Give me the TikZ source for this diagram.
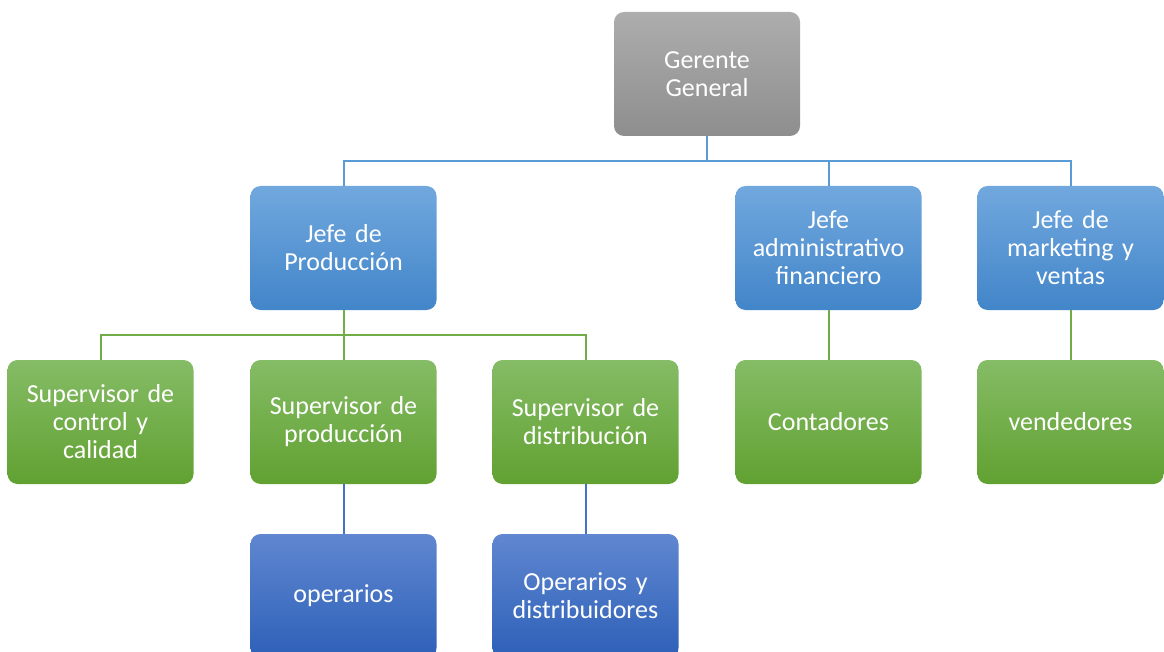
\documentclass[tikz,border=0pt]{standalone}
\usepackage{fontspec}
\setmainfont{Carlito}
\usetikzlibrary{positioning, calc}
\definecolor{grisA}{HTML}{ADADAD}
\definecolor{grisB}{HTML}{8E8E8E}
\definecolor{azulA}{HTML}{71A8DE}
\definecolor{azulB}{HTML}{4285C9}
\definecolor{verdeA}{HTML}{85BC66}
\definecolor{verdeB}{HTML}{61A131}
\definecolor{oscuroA}{HTML}{6087D0}
\definecolor{oscuroB}{HTML}{2D60B8}
\definecolor{lineaAzul}{HTML}{5B9BD5}
\definecolor{lineaVerde}{HTML}{70AD47}
\definecolor{lineaOscura}{HTML}{4472C4}

\begin{document}
\begin{tikzpicture}[x=1pt, y=-1pt,
  caja/.style={rounded corners=10pt, minimum width=186pt, minimum height=124pt,
    text width=180pt, align=center, text=white, font=\fontsize{26}{28}\selectfont, inner sep=0pt},
  gerente/.style={caja, top color=grisA, bottom color=grisB},
  jefe/.style={caja, top color=azulA, bottom color=azulB},
  super/.style={caja, top color=verdeA, bottom color=verdeB},
  base/.style={caja, top color=oscuroA, bottom color=oscuroB},
  enlace/.style={line width=2pt}]
  \useasboundingbox (0,0) rectangle (1164,652);

  % cargos
  \node[gerente] (g) at (707,74) {Gerente\\General};

  \node[jefe] (j1) at (343.5,248) {Jefe de\\Producción};
  \node[jefe] (j2) at (828.5,248) {Jefe\\administrativo\\financiero};
  \node[jefe] (j3) at (1070.5,248) {Jefe de\\marketing y\\ventas};

  \node[super] (s1) at (100.5,422) {Supervisor de\\control y\\calidad};
  \node[super] (s2) at (343.5,422) {Supervisor de\\producción};
  \node[super] (s3) at (585.5,422) {Supervisor de\\distribución};
  \node[super] (c)  at (828.5,422) {Contadores};
  \node[super] (v)  at (1070.5,422) {vendedores};

  \node[base] (o1) at (343.5,596) {operarios};
  \node[base] (o2) at (585.5,596) {Operarios y\\distribuidores};

  % lineas
  \coordinate (b1) at ($(g.south)+(0,25)$);
  \draw[enlace, lineaAzul] (g.south) -- (b1) -| (j1.north);
  \draw[enlace, lineaAzul] (b1) -| (j2.north);
  \draw[enlace, lineaAzul] (b1) -| (j3.north);

  \coordinate (b2) at ($(j1.south)+(0,25)$);
  \draw[enlace, lineaVerde] (j1.south) -- (b2) -| (s1.north);
  \draw[enlace, lineaVerde] (b2) -- (s2.north);
  \draw[enlace, lineaVerde] (b2) -| (s3.north);
  \draw[enlace, lineaVerde] (j2.south) -- (c.north);
  \draw[enlace, lineaVerde] (j3.south) -- (v.north);

  \draw[enlace, lineaOscura] (s2.south) -- (o1.north);
  \draw[enlace, lineaOscura] (s3.south) -- (o2.north);
\end{tikzpicture}
\end{document}
